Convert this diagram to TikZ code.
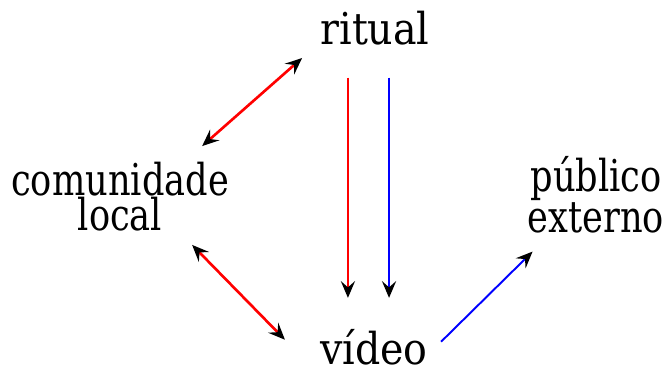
\documentclass[tikz,border=0pt]{standalone}
\usepackage{fontspec}
\setmainfont{DejaVu Serif Condensed}
\usetikzlibrary{arrows.meta,calc}
\newcommand{\squeeze}[1]{\scalebox{0.89}[1]{#1}}

\begin{document}
\begin{tikzpicture}[x=0.02cm, y=-0.02cm,
    every node/.style={font=\fontsize{25}{20}\selectfont, inner sep=0pt, align=center},
    tip/.style={-{Stealth[black, length=9.5pt, width=8pt, inset=3.5pt]}},
    bitip/.style={{Stealth[black, length=9.5pt, width=8pt, inset=3.5pt]}-{Stealth[black, length=9.5pt, width=8pt, inset=3.5pt]}},
    redline/.style={red, line width=1.5pt},
    blueline/.style={blue, line width=1.5pt}]
    \useasboundingbox (0,0) rectangle (666,367);
    \node[anchor=base] (ritual) at (375,45) {ritual};
    \node (comunidade) at (120,197) {\squeeze{comunidade}\\\squeeze{local}};
    \node (publico) at (596,195) {\squeeze{público}\\\squeeze{externo}};
    \node[anchor=base] (video) at (374,365) {vídeo};
    % double arrows on the left
    \draw[redline, bitip] ($(comunidade.north east)+(-27,-16)$) -- ($(ritual.south west)+(-18,12)$);
    \draw[redline, bitip] ($(comunidade.south east)+(-37,13)$) -- ($(video.west)+(-35,-8)$);
    % ritual down to video
    \draw[redline, tip, shorten <=18pt, shorten >=18pt] ([xshift=-15.4pt]ritual.south) -- ([xshift=-15.4pt]ritual.south |- video.north);
    \draw[blueline, tip, shorten <=18pt, shorten >=18pt] ([xshift=8pt]ritual.south) -- ([xshift=8pt]ritual.south |- video.north);
    % video out to the public
    \draw[blueline, line width=1.1pt, tip] ($(video.east)+(13,-6)$) -- ($(publico.south west)+(5,18)$);
\end{tikzpicture}
\end{document}
